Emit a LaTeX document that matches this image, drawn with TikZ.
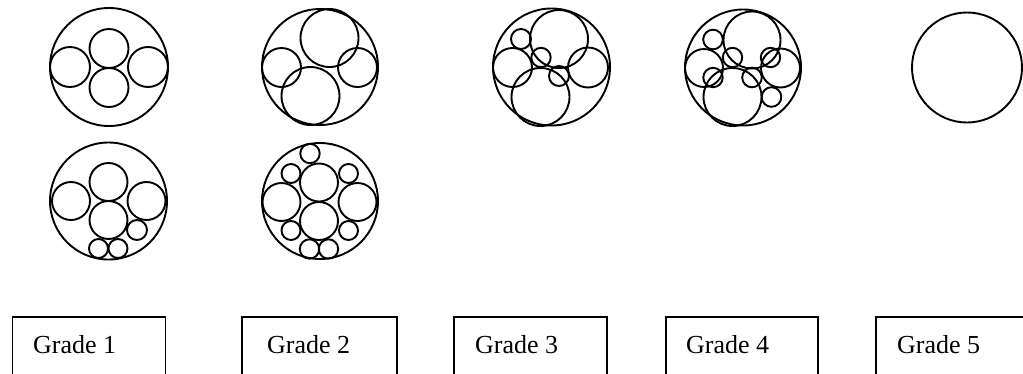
\documentclass[tikz,border=0pt]{standalone}
\usepackage{fontspec}
\setmainfont{Liberation Serif}
\usetikzlibrary{positioning}

\begin{document}
\begin{tikzpicture}[x=1pt,y=-1pt,
        ring/.style={draw=black,line width=1.9pt},
        frame/.style={draw=black,line width=1.5pt},
        grade/.style={anchor=base west,inner sep=0pt,
                      font=\fontsize{26}{30}\selectfont}
      ]
        \useasboundingbox (0,0) rectangle (1023,373);
        \clip (0,0) rectangle (1023,373);
        % Grade 1, upper
        \draw[ring] (109,67) circle (59);
        \foreach \x/\y/\r in {109/48.5/19.5, 109/87.5/19.5, 70/67/20, 148/67/20}
          \draw[ring] (\x,\y) circle (\r);
        % Grade 1, lower
        \draw[ring] (108.5,201) circle (58.5);
        \foreach \x/\y/\r in {108.5/182/19, 108.5/220/19, 71/201/19, 146.5/201/19,
                              137/230/10, 98.5/248.5/9.5, 118/248.5/9.5}
          \draw[ring] (\x,\y) circle (\r);
        % Grade 2, upper
        \draw[ring] (320,67) circle (58);
        \foreach \x/\y/\r in {329.5/38/29, 310.5/96/29, 281.5/67.5/19.5, 357.5/67.5/19.5}
          \draw[ring] (\x,\y) circle (\r);
        % Grade 2, lower
        \draw[ring] (320,201) circle (58);
        \foreach \x/\y/\r in {319/182.5/19, 319/221/19, 281.5/202/19, 357.5/202/19,
                              310/153.5/9.7, 291/173.5/9.5, 348.5/173.5/9.5,
                              291/230.5/9.5, 348.5/230.5/9.5,
                              309.5/249/9.7, 328.5/249/9.7}
          \draw[ring] (\x,\y) circle (\r);
        % Grade 3
        \draw[ring] (551.5,67) circle (58.5);
        \foreach \x/\y/\r in {559/39/29, 540.5/97/29, 512.5/67.5/19.5, 588/67.5/20,
                              521/39/10, 541/57.5/9.7, 559/76/10}
          \draw[ring] (\x,\y) circle (\r);
        % Grade 4
        \draw[ring] (743,67.5) circle (58);
        \foreach \x/\y/\r in {752/40/28.5, 732.5/97/29, 704/68/19, 780.5/68/19.5,
                              713/39.5/9.8, 732.5/57.5/9.7, 770.5/57.5/9.7,
                              713/77.5/9.7, 752/77.5/9.8, 771.5/97/9.8}
          \draw[ring] (\x,\y) circle (\r);
        % Grade 5
        \draw[ring] (967,67.5) circle (55);
        % label boxes
        \draw[frame] (12.7,317) rectangle (165.7,400);
        \draw[frame] (242,317) rectangle (397,400);
        \draw[frame] (454,317) rectangle (607,400);
        \draw[frame] (666,317) rectangle (818,400);
        \draw[frame] (876,317) rectangle (1029,400);
        \node[grade] (g1) at (33,353) {Grade 1};
        \node[grade] (g2) at (267,353) {Grade 2};
        \node[grade] (g3) at (475,353) {Grade 3};
        \node[grade] (g4) at (686,353) {Grade 4};
        \node[grade] (g5) at (897,353) {Grade 5};
      \end{tikzpicture}
\end{document}
